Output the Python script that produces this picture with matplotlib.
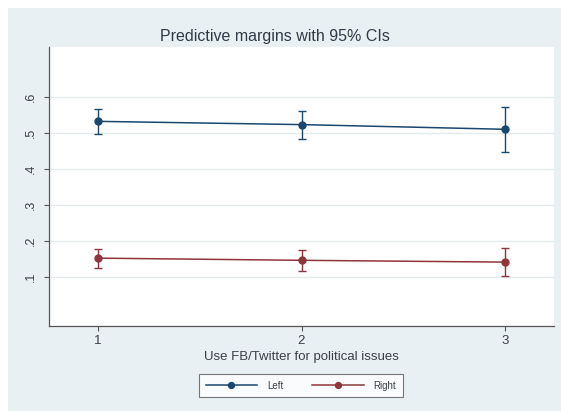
import matplotlib
matplotlib.use("Agg")
import matplotlib.pyplot as plt
from matplotlib.patches import Rectangle

plt.rcParams["font.family"] = ["Liberation Sans", "DejaVu Sans"]

# Predictive margins by use of FB/Twitter for political issues
x_levels = [1, 2, 3]
x_ticklabels = ["1", "2", "3"]

left_margin = [0.532, 0.523, 0.510]
left_lo = [0.498, 0.482, 0.448]
left_hi = [0.567, 0.562, 0.573]

right_margin = [0.153, 0.147, 0.142]
right_lo = [0.125, 0.117, 0.104]
right_hi = [0.179, 0.176, 0.180]

y_ticks = [0.1, 0.2, 0.3, 0.4, 0.5, 0.6]
y_ticklabels = [".1", ".2", ".3", ".4", ".5", ".6"]

NAVY = "#1a476f"
MAROON = "#90353b"
TEXT = "#3a3f47"
BG = "#e9f0f3"

W, H = 561, 411
fig = plt.figure(figsize=(W / 100, H / 100), dpi=100, facecolor="white")

# graph region background (Stata s2color style)
fig.patches.append(Rectangle((8 / W, 0), 1 - 8 / W, (H - 8) / H,
                             transform=fig.transFigure, facecolor=BG,
                             edgecolor="none", zorder=0))

ax = fig.add_axes([49 / W, (H - 326) / H, (554 - 49) / W, (326 - 47) / H])
ax.set_facecolor("white")
ax.set_zorder(1)

ax.set_xlim(0.76, 3.24)
ax.set_ylim(-0.035, 0.738)

ax.set_yticks(y_ticks)
ax.set_yticklabels(y_ticklabels, rotation=90, va="center", fontsize=9, color=TEXT)
ax.set_xticks(x_levels)
ax.set_xticklabels(x_ticklabels, fontsize=9.5, color=TEXT)
ax.tick_params(axis="both", length=3.5, width=0.8, color="#555555", pad=3)
ax.tick_params(axis="y", pad=5)

ax.grid(axis="y", color="#e3ebee", lw=1.0)
ax.set_axisbelow(True)

for s in ["top", "right"]:
    ax.spines[s].set_visible(False)
for s in ["left", "bottom"]:
    ax.spines[s].set_color("#555555")
    ax.spines[s].set_linewidth(0.9)


def draw_series(vals, lo, hi, color, label):
    yerr = [[v - l for v, l in zip(vals, lo)], [h - v for v, h in zip(vals, hi)]]
    ax.errorbar(x_levels, vals, yerr=yerr, fmt="none", ecolor=color,
                elinewidth=1.0, capsize=3, capthick=1.0, zorder=3)
    return ax.plot(x_levels, vals, color=color, lw=1.1, marker="o",
                   markersize=5, label=label, zorder=4)[0]


h1 = draw_series(left_margin, left_lo, left_hi, NAVY, "Left")
h2 = draw_series(right_margin, right_lo, right_hi, MAROON, "Right")

fig.text(275 / W, (H - 36) / H, "Predictive margins with 95% CIs",
         ha="center", va="center", fontsize=11.5, color="#2f3a48")
fig.text(301 / W, (H - 357) / H, "Use FB/Twitter for political issues",
         ha="center", va="center", fontsize=9.5, color=TEXT)

leg = fig.legend(handles=[h1, h2], labels=["Left", "Right"], ncol=2,
                 loc="center", bbox_to_anchor=(301 / W, (H - 385.5) / H),
                 fontsize=7, frameon=True, fancybox=False,
                 handlelength=5.3, columnspacing=3.0, handletextpad=1.0,
                 borderpad=0.7, labelcolor=TEXT, markerscale=0.85)
leg.get_frame().set_edgecolor("#555555")
leg.get_frame().set_linewidth(0.8)
leg.get_frame().set_facecolor("white")

fig.savefig("out.png", dpi=100, facecolor=fig.get_facecolor())
